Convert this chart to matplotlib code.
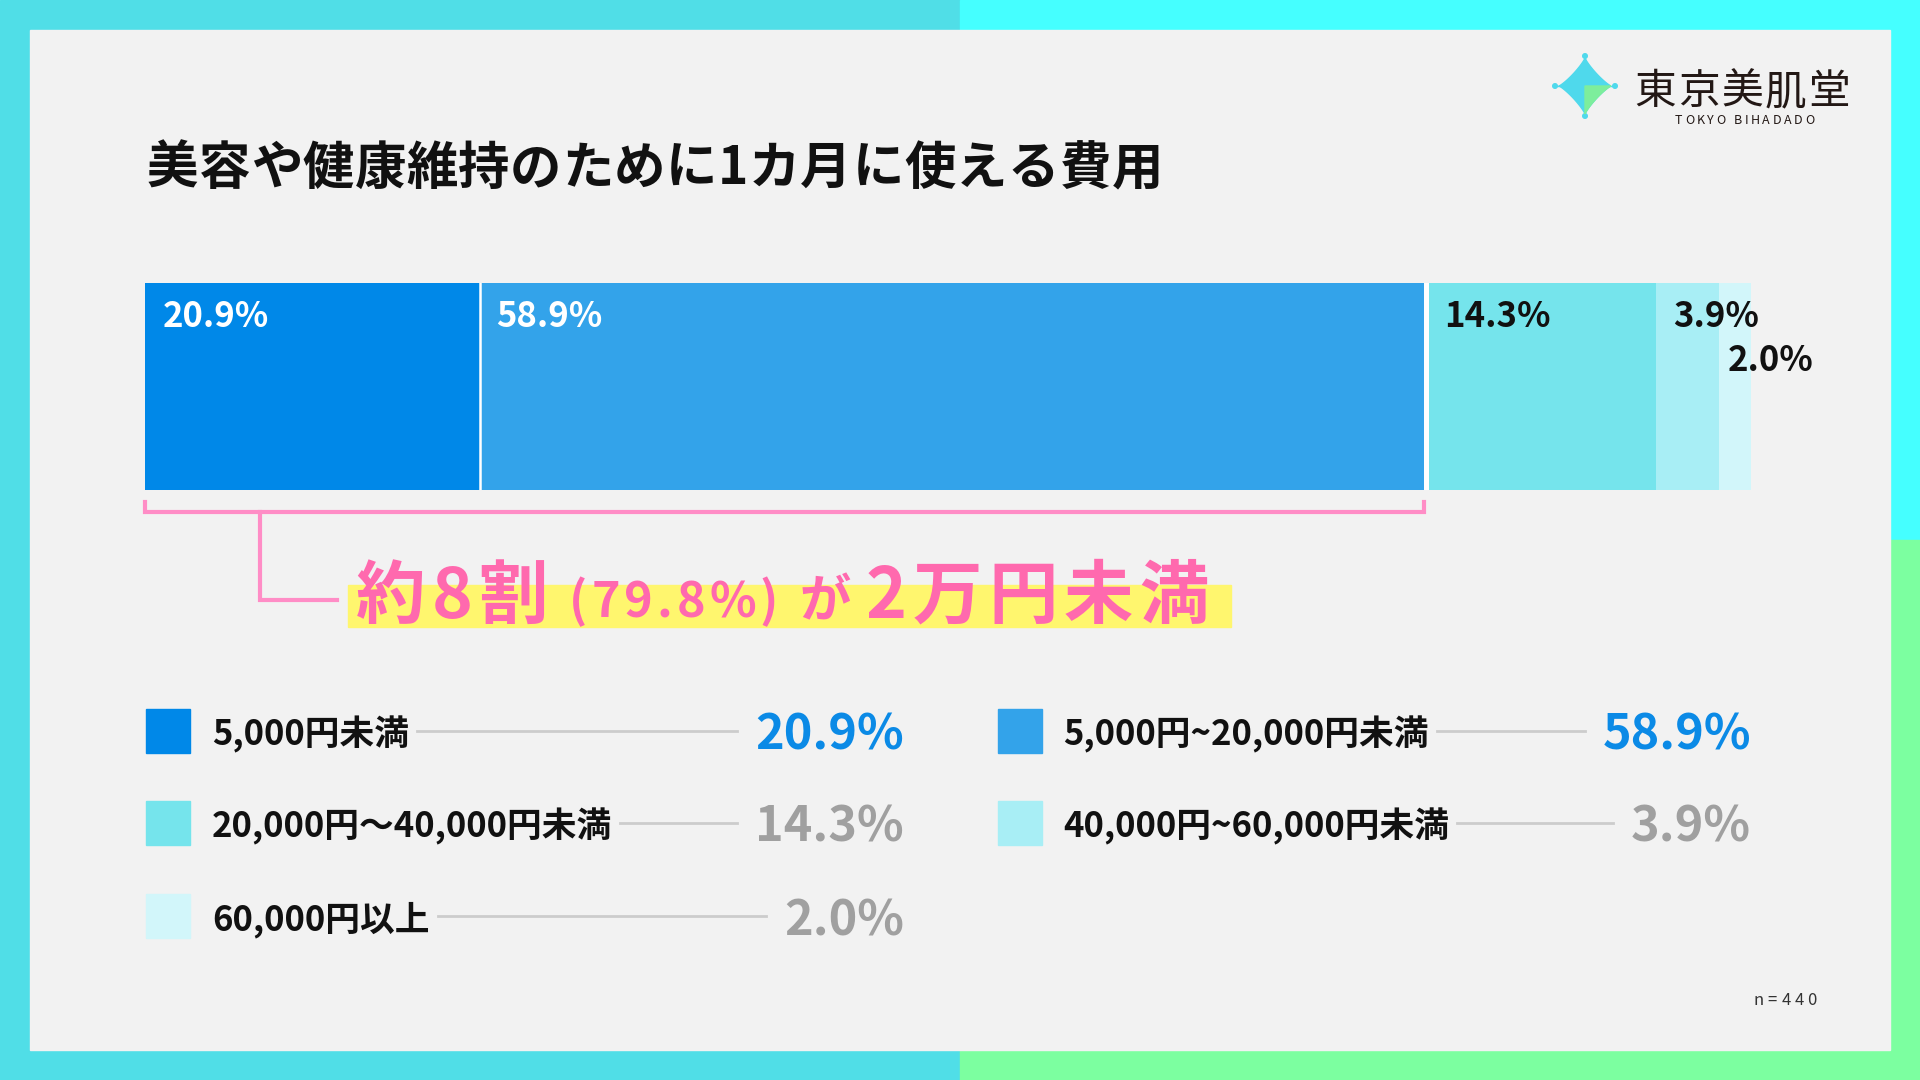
import matplotlib
matplotlib.use("Agg")
import matplotlib.pyplot as plt
from matplotlib.patches import Rectangle, Polygon, Circle
import numpy as np

plt.rcParams['font.family'] = ['Noto Sans CJK JP', 'DejaVu Sans']

# data
title = "美容や健康維持のために1カ月に使える費用"
categories = ["5,000円未満", "5,000円~20,000円未満", "20,000円〜40,000円未満",
              "40,000円~60,000円未満", "60,000円以上"]
values = [20.9, 58.9, 14.3, 3.9, 2.0]
bar_colors = ["#0088E8", "#33A3EA", "#75E4EC", "#A8EEF5", "#D2F6FA"]
bar_label_colors = ["white", "white", "#111111", "#111111", "#111111"]
sample_note = "n=440"
brand = "東京美肌堂"
brand_en = "TOKYO BIHADADO"
under_20k = values[0] + values[1]

W, H = 1920, 1080
fig = plt.figure(figsize=(19.2, 10.8), dpi=100)
ax = fig.add_axes([0, 0, 1, 1])
ax.set_xlim(0, W)
ax.set_ylim(H, 0)
ax.axis('off')
renderer = fig.canvas.get_renderer()

# frame
ax.add_patch(Rectangle((0, 0), W, H, color="#50DEE7", zorder=0))
ax.add_patch(Rectangle((960, 0), 960, 30, color="#45FFFF", zorder=0))
ax.add_patch(Rectangle((1890, 0), 30, 540, color="#45FFFF", zorder=0))
ax.add_patch(Rectangle((1890, 540), 30, 540, color="#7CFFA0", zorder=0))
ax.add_patch(Rectangle((960, 1050), 960, 30, color="#7CFFA0", zorder=0))
ax.add_patch(Rectangle((30, 30), 1860, 1020, color="#F2F2F2", zorder=0.5))


def ink_width(ch, size, weight):
    t = ax.text(0, 0, ch, fontsize=size, fontweight=weight)
    w = t.get_window_extent(renderer).width
    t.remove()
    return w


def spaced_text(x, y, s, size, gap, color, weight='bold', ha='left', zorder=5):
    widths = [size * 0.35 if ch == ' ' else ink_width(ch, size, weight) for ch in s]
    total = sum(widths) + gap * (len(s) - 1)
    if ha == 'right':
        x = x - total
    cx = x
    for ch, w in zip(s, widths):
        if ch != ' ':
            ax.text(cx, y, ch, fontsize=size, fontweight=weight, color=color,
                    va='baseline', ha='left', zorder=zorder)
        cx += w + gap
    return x, x + total


# title
spaced_text(147, 184, title, 37, 0.5, "#111111")

# logo
cx0, cy0 = 1585, 86
t = np.linspace(0, 2 * np.pi, 400)
n = 0.85
sx = 26 * np.sign(np.cos(t)) * np.abs(np.cos(t)) ** (2 / n)
sy = 28 * np.sign(np.sin(t)) * np.abs(np.sin(t)) ** (2 / n)
ax.add_patch(Polygon(np.c_[cx0 + sx, cy0 + sy], color="#4FD9EC", zorder=3))
q = np.linspace(0, np.pi / 2, 100)
gx = 26 * np.cos(q) ** (2 / n)
gy = 28 * np.sin(q) ** (2 / n)
ax.add_patch(Polygon(np.r_[[[cx0, cy0]], np.c_[cx0 + gx, cy0 + gy]], color="#7DEE9C", zorder=3.1))
for dx, dy in [(0, -30), (0, 30), (-30, 0), (30, 0)]:
    ax.plot([cx0, cx0 + dx], [cy0, cy0 + dy], color="#4FD9EC", lw=1, zorder=2.9)
    ax.add_patch(Circle((cx0 + dx, cy0 + dy), 2.3, color="#4FD9EC", zorder=3))
spaced_text(1634, 104, brand, 30, 2, "#231815", weight='normal')
spaced_text(1675, 124, brand_en, 9, 2.5, "#231815", weight='normal')

# stacked bar
bx0, bx1, by0, by1 = 144.5, 1751, 283, 490
bar_ax = fig.add_axes([bx0 / W, 1 - by1 / H, (bx1 - bx0) / W, (by1 - by0) / H])
bar_ax.set_xlim(0, 100)
bar_ax.set_ylim(0, 1)
bar_ax.axis('off')
bar_ax.patch.set_visible(False)
lefts = np.cumsum([0] + values[:-1])
bar_ax.barh(0.5, values, left=lefts, height=1, color=bar_colors, linewidth=0)
bar_ax.axvline(lefts[1], color="white", lw=1.8)
bar_ax.axvline(lefts[2], color="white", lw=3.6)
label_off = [1.12, 1.0, 1.12, 1.06, 0.56]
label_y = [0.787, 0.787, 0.787, 0.787, 0.575]
for i, v in enumerate(values):
    bar_ax.text(lefts[i] + label_off[i], label_y[i], f"{v:.1f}%", fontsize=25,
                fontweight='bold', color=bar_label_colors[i], va='baseline',
                ha='left', clip_on=False)

# bracket + summary
px_per = (bx1 - bx0) / 100
x_end = bx0 + px_per * under_20k - 2
pink = "#FF8DC6"
ax.plot([145, 145, x_end, x_end], [502, 512, 512, 502], color=pink, lw=3,
        solid_joinstyle='miter', zorder=4)
ax.plot([260, 260, 337], [512, 600, 600], color=pink, lw=3,
        solid_joinstyle='miter', zorder=4)
ax.add_patch(Rectangle((348, 585), 883, 42, color="#FFF66E", zorder=2))
hl = "#FF69AE"
spaced_text(356, 618, "約8割", 50, 6, hl)
spaced_text(569, 617, f"({under_20k:.1f}%)", 35, 4, hl)
spaced_text(799, 617, "が", 37, 4, hl)
spaced_text(866, 618, "2万円未満", 50, 6, hl)

# legend
rows = [(0, 0, 731), (1, 1, 731), (2, 0, 823), (3, 1, 823), (4, 0, 916)]
col_sq = [145.7, 998]
col_lab = [212, 1063]
col_val = [904, 1751]
for idx, col, yc in rows:
    ax.add_patch(Rectangle((col_sq[col], yc - 22), 44, 44, color=bar_colors[idx], zorder=3))
    lab = ax.text(col_lab[col], yc + 14, categories[idx], fontsize=25, fontweight='bold',
                  color="#111111", va='baseline', ha='left', zorder=4)
    vcol = "#0B8AE6" if idx < 2 else "#A0A0A0"
    val = ax.text(col_val[col], yc + 19, f"{values[idx]:.1f}%", fontsize=35,
                  fontweight='bold', color=vcol, va='baseline', ha='right', zorder=4)
    lb = lab.get_window_extent(renderer)
    vb = val.get_window_extent(renderer)
    ax.plot([lb.x1 + 8, vb.x0 - 18], [yc, yc], color="#CCCCCC", lw=2, zorder=3)

# sample size
spaced_text(1817, 1005, sample_note, 12, 4, "#333333", weight='normal', ha='right')

fig.savefig("out.png", dpi=100)
